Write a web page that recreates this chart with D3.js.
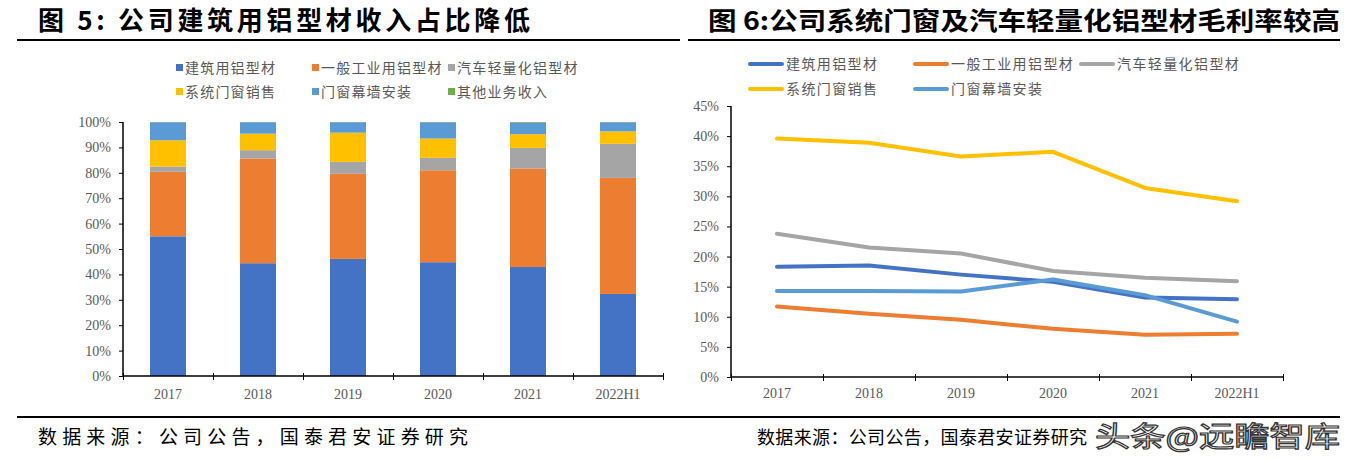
<!DOCTYPE html>
<html><head><meta charset="utf-8">
<script src="https://cdn.jsdelivr.net/npm/d3@7/dist/d3.min.js"></script>
<style>body{margin:0;background:#fff;}svg{display:block;}</style>
</head><body>
<svg id="c" width="1356" height="461"></svg>
<script>
const categories = ["2017","2018","2019","2020","2021","2022H1"];
const seriesNames = ["建筑用铝型材","一般工业用铝型材","汽车轻量化铝型材","系统门窗销售","门窗幕墙安装","其他业务收入"];
const colors = ["#4472C4","#ED7D31","#A5A5A5","#FFC000","#5B9BD5","#70AD47"];
// Revenue share (%)
const shareBuilding = [55.0, 44.4, 46.1, 44.8, 42.9, 32.3];
const shareIndustrial = [25.4, 41.2, 33.5, 36.2, 38.8, 45.7];
const shareAuto = [2.0, 3.3, 4.7, 4.9, 8.1, 13.4];
const shareSystemWindow = [10.4, 6.5, 11.5, 7.6, 5.4, 4.9];
const shareCurtainWall = [7.1, 4.5, 4.1, 6.4, 4.5, 3.6];
const shareOther = [0.1, 0.1, 0.1, 0.1, 0.3, 0.1];
// Gross margin (%)
const gmBuilding = [18.3, 18.5, 17.0, 15.8, 13.2, 12.9];
const gmIndustrial = [11.7, 10.5, 9.5, 8.0, 7.0, 7.2];
const gmAuto = [23.8, 21.5, 20.5, 17.6, 16.5, 15.9];
const gmSystemWindow = [39.6, 38.9, 36.6, 37.4, 31.4, 29.2];
const gmCurtainWall = [14.3, 14.3, 14.2, 16.2, 13.6, 9.2];
const leftTicks = [0,10,20,30,40,50,60,70,80,90,100];
const rightTicks = [0,5,10,15,20,25,30,35,40,45];

const svg = d3.select("#c");
const CJK = "'Noto Sans CJK SC', sans-serif";
const SERIF = "'Liberation Serif','Times New Roman',serif";
const tc = "#595959";

// Titles
svg.append("text").attr("x",38).attr("y",30).attr("font-family",CJK).attr("font-weight","bold").attr("font-size",26).attr("fill","#000")
  .attr("textLength",492).attr("lengthAdjust","spacing")
  .text("图 5:  公司建筑用铝型材收入占比降低");
svg.append("text").attr("x",708).attr("y",30).attr("font-family",CJK).attr("font-weight","bold").attr("font-size",25).attr("fill","#000")
  .attr("textLength",632).attr("lengthAdjust","spacingAndGlyphs")
  .text("图 6:公司系统门窗及汽车轻量化铝型材毛利率较高");
svg.append("line").attr("x1",17).attr("x2",680).attr("y1",40).attr("y2",40).attr("stroke","#000").attr("stroke-width",2);
svg.append("line").attr("x1",688).attr("x2",1340).attr("y1",40).attr("y2",40).attr("stroke","#000").attr("stroke-width",2);
svg.append("line").attr("x1",17).attr("x2",1340).attr("y1",417).attr("y2",417).attr("stroke","#000").attr("stroke-width",2);

// Sources
svg.append("text").attr("x",38).attr("y",444).attr("font-family",CJK).attr("font-size",19).attr("fill","#000")
  .attr("textLength",430).attr("lengthAdjust","spacing").text("数据来源：公司公告，国泰君安证券研究");
svg.append("text").attr("x",757).attr("y",444).attr("font-family",CJK).attr("font-size",18).attr("fill","#000")
  .attr("textLength",330).attr("lengthAdjust","spacing").text("数据来源：公司公告，国泰君安证券研究");
svg.append("text").attr("x",1095).attr("y",447).attr("font-family",CJK).attr("font-size",28).attr("fill","#fff")
  .attr("stroke","#333").attr("stroke-width",1.2).attr("textLength",245).attr("lengthAdjust","spacingAndGlyphs").text("头条@远瞻智库");

// ---------- Left stacked bar chart ----------
const shares = [shareBuilding, shareIndustrial, shareAuto, shareSystemWindow, shareCurtainWall, shareOther];
const rows = categories.map((c,i)=>{const o={cat:c}; seriesNames.forEach((s,j)=>o[s]=shares[j][i]); return o;});
const stack = d3.stack().keys(seriesNames)(rows);
const xL = d3.scaleBand().domain(categories).range([123,663]).paddingInner(0.6).paddingOuter(0.3);
const yL = d3.scaleLinear().domain([0,100]).range([376,122]);
const gL = svg.append("g");
stack.forEach((layer,j)=>{
  gL.selectAll(null).data(layer).enter().append("rect")
    .attr("x",d=>xL(d.data.cat)).attr("width",xL.bandwidth())
    .attr("y",d=>yL(Math.min(d[1],100))).attr("height",d=>Math.max(0,yL(d[0])-yL(Math.min(d[1],100))))
    .attr("fill",colors[j]);
});
const yAxL = gL.append("g").attr("transform","translate(123,0)")
  .call(d3.axisLeft(yL).tickValues(leftTicks).tickFormat(d=>d+"%").tickSize(4).tickPadding(8));
const xBL = d3.scalePoint().domain(d3.range(7)).range([123,663]);
const xAxL = gL.append("g").attr("transform","translate(0,376)")
  .call(d3.axisBottom(xBL).tickValues(d3.range(7)).tickSize(3).tickFormat(""));
gL.append("g").selectAll("text").data(categories).enter().append("text")
  .attr("x",d=>xL(d)+xL.bandwidth()/2).attr("y",399).attr("text-anchor","middle")
  .attr("font-family",SERIF).attr("font-size",14).attr("fill",tc).text(d=>d);

// ---------- Right line chart ----------
const xR = d3.scaleBand().domain(categories).range([731,1283]);
const yR = d3.scaleLinear().domain([0,45]).range([377,106]);
const gR = svg.append("g");
const gms = [gmBuilding, gmIndustrial, gmAuto, gmSystemWindow, gmCurtainWall];
const line = d3.line().x((d,i)=>xR(categories[i])+xR.bandwidth()/2).y(d=>yR(d));
gms.forEach((arr,j)=>{
  gR.append("path").datum(arr).attr("d",line).attr("fill","none").attr("stroke",colors[j])
    .attr("stroke-width",4).attr("stroke-linejoin","round").attr("stroke-linecap","round");
});
const yAxR = gR.append("g").attr("transform","translate(731,0)")
  .call(d3.axisLeft(yR).tickValues(rightTicks).tickFormat(d=>d+"%").tickSize(4).tickPadding(8));
const xBR = d3.scalePoint().domain(d3.range(7)).range([731,1283]);
const xAxR = gR.append("g").attr("transform","translate(0,377)")
  .call(d3.axisBottom(xBR).tickValues(d3.range(7)).tickSize(3).tickFormat(""));
gR.append("g").selectAll("text").data(categories).enter().append("text")
  .attr("x",d=>xR(d)+xR.bandwidth()/2).attr("y",398).attr("text-anchor","middle")
  .attr("font-family",SERIF).attr("font-size",14).attr("fill",tc).text(d=>d);

// axis styling
[yAxL,yAxR].forEach(a=>{
  a.select(".domain").attr("stroke","#000").attr("stroke-width",1.5);
  a.selectAll(".tick line").attr("stroke","#000");
  a.selectAll("text").attr("font-family",SERIF).attr("font-size",14).attr("fill",tc);
});
[xAxL,xAxR].forEach(a=>{
  a.select(".domain").attr("stroke","#000").attr("stroke-width",1.5);
  a.selectAll(".tick line").attr("stroke","#000").attr("y1",-3).attr("y2",4);
});
yAxL.select(".domain").attr("d","M0,122V376");
yAxR.select(".domain").attr("d","M0,106V377");
xAxL.select(".domain").attr("d","M123,0H663");
xAxR.select(".domain").attr("d","M731,0H1283");

// ---------- Legends ----------
const legL = [[176,68],[312,68],[448,68],[176,92],[312,92],[448,92]];
seriesNames.forEach((s,j)=>{
  svg.append("rect").attr("x",legL[j][0]).attr("y",legL[j][1]-4).attr("width",7).attr("height",7).attr("fill",colors[j]);
  svg.append("text").attr("x",legL[j][0]+9).attr("y",legL[j][1]+5).attr("font-family",CJK).attr("font-size",14).attr("letter-spacing",1.2).attr("fill",tc).text(s);
});
const legR = [[750,64],[915,64],[1081,64],[750,89],[915,89]];
seriesNames.slice(0,5).forEach((s,j)=>{
  svg.append("line").attr("x1",legR[j][0]).attr("x2",legR[j][0]+32).attr("y1",legR[j][1]).attr("y2",legR[j][1])
    .attr("stroke",colors[j]).attr("stroke-width",4).attr("stroke-linecap","round");
  svg.append("text").attr("x",legR[j][0]+36).attr("y",legR[j][1]+5).attr("font-family",CJK).attr("font-size",14).attr("letter-spacing",1.4).attr("fill",tc).text(s);
});
</script>
</body></html>
